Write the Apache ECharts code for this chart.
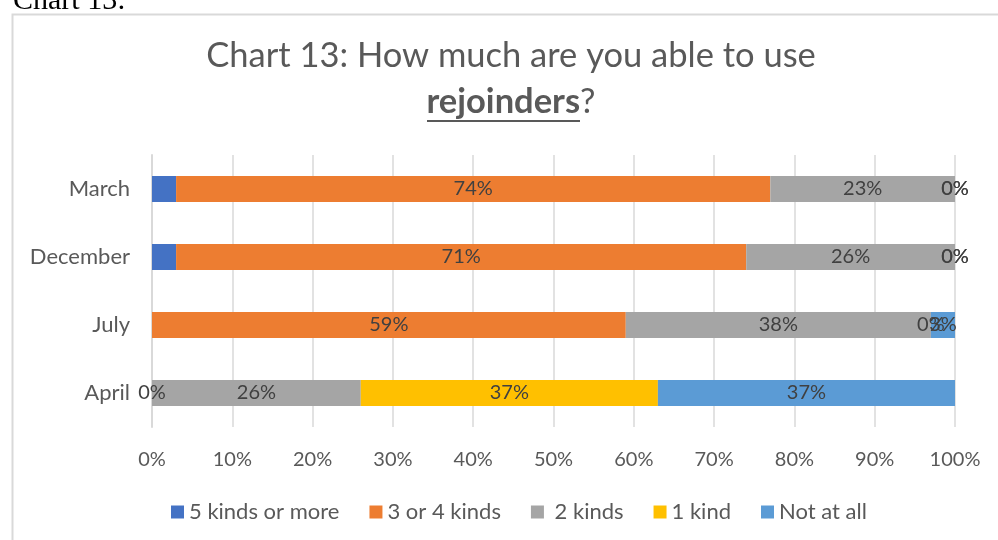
<!DOCTYPE html>
<html>
<head>
<meta charset="utf-8">
<script src="https://cdn.jsdelivr.net/npm/echarts@6/dist/echarts.min.js"></script>
<style>
  html, body { margin: 0; padding: 0; background: #ffffff; }
  #chart { width: 998px; height: 540px; }
</style>
</head>
<body>
<div id="chart"></div>
<script>
// Survey months, listed bottom to top on the category axis
const months = ['April', 'July', 'December', 'March'];

// Share of respondents (%) for each answer, in month order above
const fiveOrMore = [0, 0, 3, 3];
const threeOrFour = [0, 59, 71, 74];
const twoKinds = [26, 38, 26, 23];
const oneKind = [37, 0, 0, 0];
const notAtAll = [37, 3, 0, 0];

const seriesNames = ['5 kinds or more', '3 or 4 kinds', '2 kinds', '1 kind', 'Not at all'];
const seriesColors = ['#4472C4', '#ED7D31', '#A5A5A5', '#FFC000', '#5B9BD5'];
const seriesValues = [fiveOrMore, threeOrFour, twoKinds, oneKind, notAtAll];
// The first answer carries no value labels
const showLabels = [false, true, true, true, true];

const xTicks = [0, 10, 20, 30, 40, 50, 60, 70, 80, 90, 100];

const FONT = 'Lato, "Open Sans", sans-serif';
const GREY = '#595959';
const chart = echarts.init(document.getElementById('chart'));

const series = seriesNames.map((name, i) => ({
  name: name,
  type: 'bar',
  stack: 'total',
  barWidth: 26,
  data: seriesValues[i],
  itemStyle: { color: seriesColors[i] },
  label: {
    show: showLabels[i],
    position: 'inside',
    formatter: '{c}%',
    color: '#404040',
    fontFamily: FONT,
    fontSize: 20
  },
  emphasis: { disabled: true }
}));

chart.setOption({
  animation: false,
  backgroundColor: '#ffffff',
  grid: { left: 152, right: 43, top: 155, bottom: 113, containLabel: false },
  xAxis: {
    type: 'value',
    min: xTicks[0],
    max: xTicks[xTicks.length - 1],
    interval: 10,
    axisLine: { show: false },
    axisTick: { show: false },
    splitLine: { lineStyle: { color: '#D9D9D9', width: 1.5 } },
    axisLabel: {
      formatter: '{value}%',
      color: GREY,
      fontFamily: FONT,
      fontSize: 20,
      margin: 23
    }
  },
  yAxis: {
    type: 'category',
    data: months,
    axisLine: { show: true, lineStyle: { color: '#D9D9D9', width: 2 } },
    axisTick: { show: false },
    axisLabel: {
      color: GREY,
      fontFamily: FONT,
      fontSize: 22,
      margin: 22
    }
  },
  legend: {
    top: 496,
    left: 166,
    itemWidth: 13,
    itemHeight: 13,
    itemGap: 30,
    icon: 'rect',
    formatter: name => (name === '2 kinds' ? ' ' + name : name),
    textStyle: { color: GREY, fontFamily: FONT, fontSize: 22 },
    data: seriesNames
  },
  graphic: [
    {
      type: 'rect',
      left: 10, top: 12,
      shape: { width: 1000, height: 540 },
      style: { fill: 'none', stroke: '#D9D9D9', lineWidth: 2 },
      silent: true, z: -1
    },
    {
      type: 'text',
      x: 13, y: 16,
      style: {
        text: 'Chart 13:', fill: '#000000',
        font: '30px "Liberation Serif", serif',
        verticalAlign: 'bottom'
      },
      silent: true
    },
    {
      type: 'text',
      x: 511, y: 56,
      style: {
        text: 'Chart 13: How much are you able to use',
        fill: GREY,
        font: '34.5px Lato, sans-serif',
        align: 'center',
        verticalAlign: 'middle'
      },
      silent: true
    },
    {
      type: 'text',
      x: 511, y: 102,
      style: {
        text: '{b|rejoinders}?',
        fill: GREY,
        font: '34.5px Lato, sans-serif',
        align: 'center',
        verticalAlign: 'middle',
        rich: {
          b: { fontFamily: 'Lato, sans-serif', fontSize: 34.5, fontWeight: 'bold', fill: GREY, color: GREY }
        }
      },
      silent: true
    },
    {
      type: 'rect',
      x: 427, y: 120,
      shape: { width: 153, height: 2 },
      style: { fill: GREY },
      silent: true
    }
  ],
  series: series
});
</script>
</body>
</html>
